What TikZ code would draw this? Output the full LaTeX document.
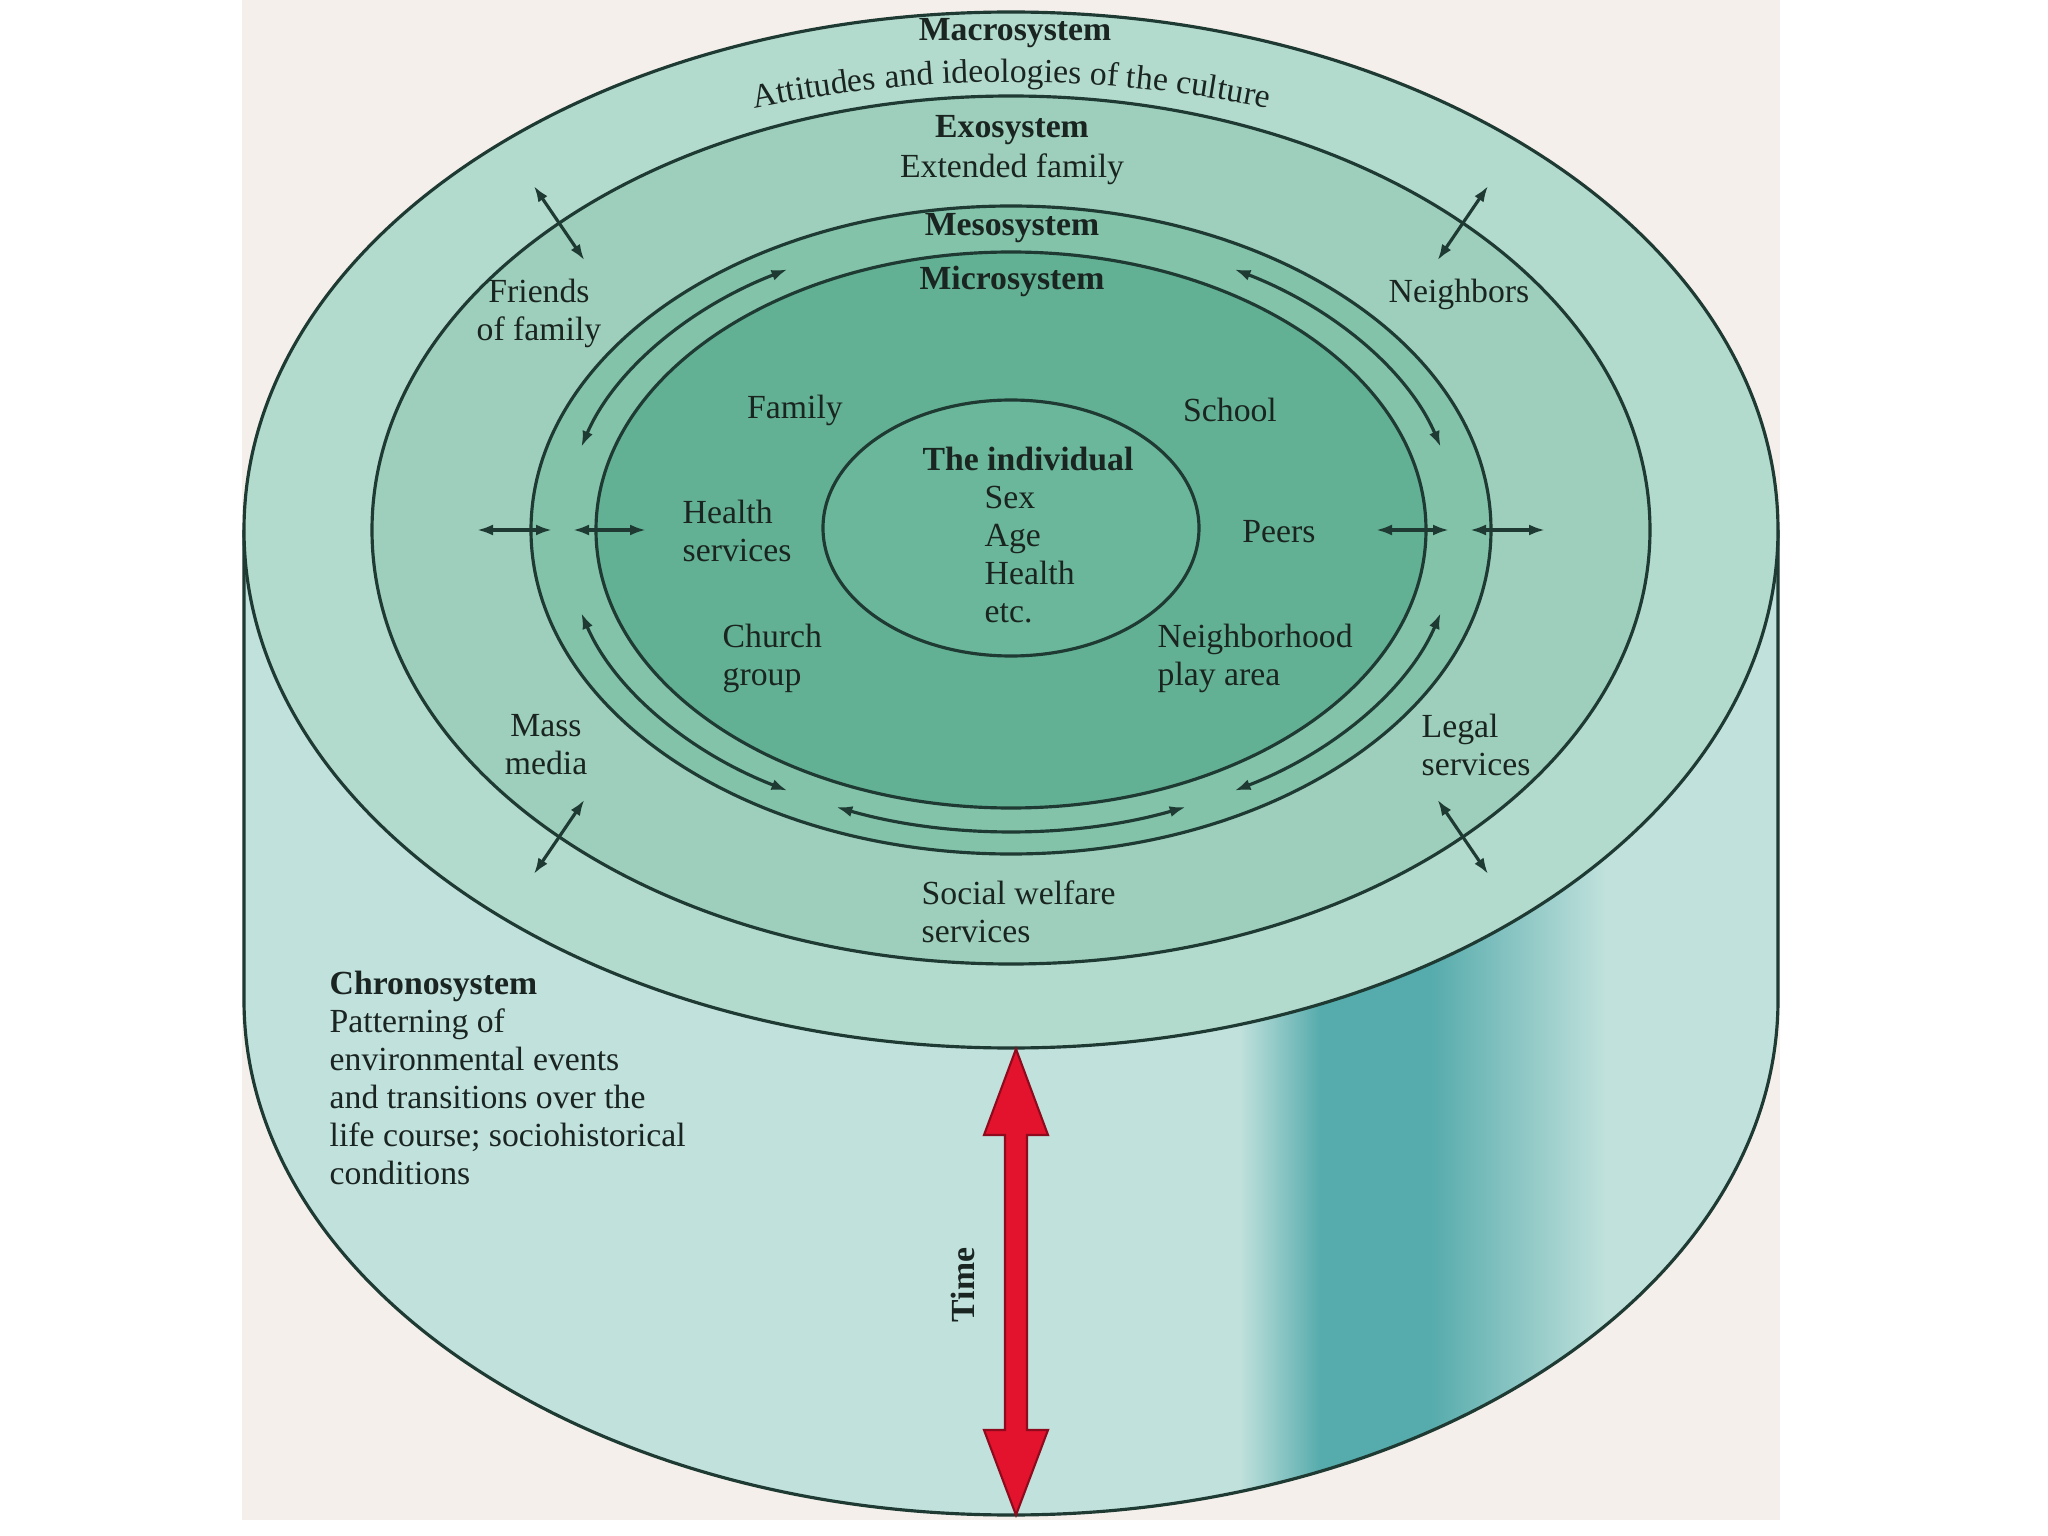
\documentclass[tikz,border=0pt]{standalone}
\usepackage{fontspec}
\setmainfont{Liberation Serif}
\usetikzlibrary{arrows.meta,calc,decorations.text}

\definecolor{scanbg}{HTML}{F4EFEB}
\definecolor{bodyc}{HTML}{C0E1DC}
\definecolor{bandc}{HTML}{56ABAC}
\definecolor{macroc}{HTML}{B2DACD}
\definecolor{exoc}{HTML}{9DCFBC}
\definecolor{mesoc}{HTML}{82C3AA}
\definecolor{microc}{HTML}{62B194}
\definecolor{indc}{HTML}{6BB79B}
\definecolor{linec}{HTML}{1E3A33}
\definecolor{txtc}{HTML}{1A2420}
\definecolor{timered}{HTML}{E3132E}
\definecolor{timedark}{HTML}{8E0A1C}

\newcommand{\lbfont}{\fontsize{9.6}{10.8}\selectfont}

\begin{document}
\begin{tikzpicture}[
  ring/.style={draw=linec, line width=0.9pt},
  lbl/.style={font=\lbfont, text=txtc, inner sep=0pt, align=center},
  lbll/.style={font=\lbfont, text=txtc, inner sep=0pt, align=left},
  ttl/.style={font=\lbfont\bfseries, text=txtc, inner sep=0pt},
  dbl/.style={draw=linec, line width=0.9pt, {Latex[length=1.6mm,width=1.1mm]}-{Latex[length=1.6mm,width=1.1mm]}},
]
\useasboundingbox (0,0) rectangle (20.48,-15.36);
\fill[white] (0,0) rectangle (20.48,-15.36);
\fill[scanbg] (2.42,0) rectangle (17.80,-15.20);

\coordinate (C) at (10.11,-5.30);

% cylinder body
\fill[bodyc] (2.44,-5.30) -- (2.44,-10.00) arc[start angle=180,end angle=360,x radius=7.67,y radius=5.15] -- (17.78,-5.30) -- cycle;
\begin{scope}
  \clip (2.44,-5.30) -- (2.44,-10.00) arc[start angle=180,end angle=360,x radius=7.67,y radius=5.15] -- (17.78,-5.30) -- cycle;
  \shade[left color=bodyc, right color=bandc] (12.40,-5.0) rectangle (13.21,-15.4);
  \fill[bandc] (13.20,-5.0) rectangle (14.31,-15.4);
  \shade[left color=bandc, right color=bodyc] (14.30,-5.0) rectangle (16.05,-15.4);
\end{scope}
\draw[ring] (2.44,-5.30) -- (2.44,-10.00) arc[start angle=180,end angle=360,x radius=7.67,y radius=5.15] -- (17.78,-5.30);

% rings
\filldraw[ring, fill=macroc] (C) ellipse[x radius=7.67, y radius=5.18];
\filldraw[ring, fill=exoc] (C) ellipse[x radius=6.39, y radius=4.34];
\filldraw[ring, fill=mesoc] (C) ellipse[x radius=4.80, y radius=3.24];
\filldraw[ring, fill=microc] (C) ellipse[x radius=4.15, y radius=2.78];
\filldraw[ring, fill=indc] (10.11,-5.28) ellipse[x radius=1.88, y radius=1.28];

% curved arrows between micro and meso
\coordinate (a1) at ($(C)+(120:4.47 and 3.01)$);
\coordinate (a2) at ($(C)+(60:4.47 and 3.01)$);
\coordinate (a3) at ($(C)+(196:4.47 and 3.01)$);
\coordinate (a4) at ($(C)+(247:4.47 and 3.01)$);
\coordinate (a5) at ($(C)+(300:4.47 and 3.01)$);
\draw[dbl] (a1) arc[start angle=120, end angle=164, x radius=4.47, y radius=3.01];
\draw[dbl] (a2) arc[start angle=60, end angle=16, x radius=4.47, y radius=3.01];
\draw[dbl] (a3) arc[start angle=196, end angle=240, x radius=4.47, y radius=3.01];
\draw[dbl] (a4) arc[start angle=247, end angle=293, x radius=4.47, y radius=3.01];
\draw[dbl] (a5) arc[start angle=300, end angle=344, x radius=4.47, y radius=3.01];

% horizontal double arrows
\coordinate (hA1) at (4.77,-5.30); \coordinate (hA2) at (5.52,-5.30);
\coordinate (hB1) at (5.73,-5.30); \coordinate (hB2) at (6.46,-5.30);
\coordinate (hC1) at (13.76,-5.30); \coordinate (hC2) at (14.49,-5.30);
\coordinate (hD1) at (14.70,-5.30); \coordinate (hD2) at (15.45,-5.30);
\draw[dbl] (hA1) -- (hA2);
\draw[dbl] (hB1) -- (hB2);
\draw[dbl] (hC1) -- (hC2);
\draw[dbl] (hD1) -- (hD2);

% diagonal arrows across the exosystem boundary
\coordinate (xtl) at ($(C)+(135:6.39 and 4.34)$);
\coordinate (xtr) at ($(C)+(45:6.39 and 4.34)$);
\coordinate (xbl) at ($(C)+(225:6.39 and 4.34)$);
\coordinate (xbr) at ($(C)+(315:6.39 and 4.34)$);
\draw[dbl] ($(xtl)+(-0.253,0.372)$) -- ($(xtl)+(0.253,-0.372)$);
\draw[dbl] ($(xtr)+(0.253,0.372)$) -- ($(xtr)+(-0.253,-0.372)$);
\draw[dbl] ($(xbl)+(-0.253,-0.372)$) -- ($(xbl)+(0.253,0.372)$);
\draw[dbl] ($(xbr)+(0.253,-0.372)$) -- ($(xbr)+(-0.253,0.372)$);

% titles
\node[ttl] (mac) at (10.15,-0.33) {Macrosystem};
\path[decorate, decoration={text along path, text={|\lbfont|Attitudes and ideologies of the culture}, text align=center, text color=txtc}]
  (6.815,-1.254) arc[start angle=105, end angle=75, radius=12.73];
\node[ttl] (exo) at (10.12,-1.30) {Exosystem};
\node[lbl] (extfam) at (10.12,-1.69) {Extended family};
\node[ttl] (meso) at (10.12,-2.28) {Mesosystem};
\node[ttl] (micro) at (10.12,-2.81) {Microsystem};

% exosystem labels
\node[lbl] (friends) at (5.39,-3.135) {Friends\\of family};
\node[lbl] (neigh) at (14.59,-2.94) {Neighbors};
\node[lbl] (mass) at (5.46,-7.45) {Mass\\media};
\node[lbll, anchor=west] (legal) at (14.21,-7.45) {Legal\\services};
\node[lbll, anchor=west] (social) at (9.21,-9.12) {Social welfare\\services};

% microsystem labels
\node[lbl] (family) at (7.95,-4.10) {Family};
\node[lbl] (school) at (12.30,-4.10) {School};
\node[lbll, anchor=west] (health) at (6.82,-5.31) {Health\\services};
\node[lbl] (peers) at (12.79,-5.32) {Peers};
\node[lbll, anchor=west] (church) at (7.22,-6.58) {Church\\group};
\node[lbll, anchor=west] (nbhd) at (11.57,-6.58) {Neighborhood\\play area};

% individual
\node[ttl] (indiv) at (10.28,-4.59) {The individual};
\node[lbll, anchor=west] (traits) at (9.84,-5.545) {Sex\\Age\\Health\\etc.};

% chronosystem
\node[lbll, anchor=west] (chrono) at (3.29,-10.78) {\textbf{Chronosystem}\\Patterning of\\environmental events\\and transitions over the\\life course; sociohistorical\\conditions};

% time arrow
\filldraw[fill=timered, draw=timedark, line width=0.6pt, line join=miter]
  (10.16,-10.49) -- (10.48,-11.35) -- (10.27,-11.35) -- (10.27,-14.30) -- (10.48,-14.30)
  -- (10.16,-15.15) -- (9.84,-14.30) -- (10.05,-14.30) -- (10.05,-11.35) -- (9.84,-11.35) -- cycle;
\node[ttl, rotate=90] (time) at (9.63,-12.85) {Time};
\end{tikzpicture}
\end{document}
